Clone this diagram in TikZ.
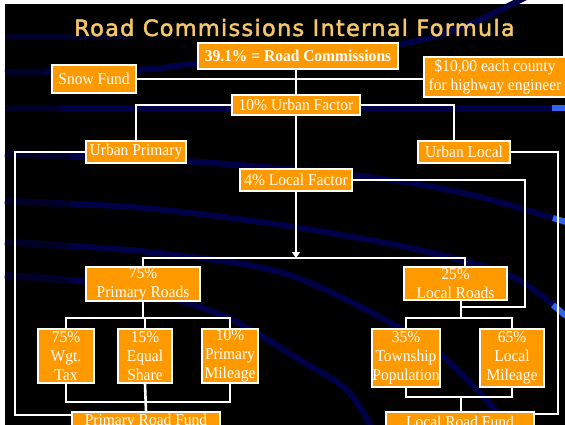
\documentclass[tikz,border=0pt]{standalone}
\usepackage{fontspec}
\setmainfont{Liberation Serif}[FakeStretch=0.94]
\newfontfamily\titlefont{DejaVu Sans}[LetterSpace=5.5,FakeBold=2]
\usetikzlibrary{arrows.meta}
\pgfdeclarelayer{bg}
\pgfsetlayers{bg,main}
\definecolor{orng}{RGB}{255,153,0}
\definecolor{gold}{RGB}{246,198,104}
\definecolor{navyb}{RGB}{0,0,72}
\definecolor{navyd}{RGB}{0,0,40}
\definecolor{brightb}{RGB}{50,100,240}
\newcommand\bxfont{\fontsize{16.5}{19}\selectfont}
\begin{document}
\begin{tikzpicture}[x=1pt,y=-1pt,
  box/.style={draw=white, line width=1.8pt, fill=orng, text=white, inner sep=0pt, align=center, font=\bxfont},
  conn/.style={draw=white, line width=2.6pt},
  swoosh/.style={draw=navyb, line width=6pt},
  tipb/.style={draw=brightb, line width=6pt},
  ttl/.style={text=gold, inner sep=0pt, anchor=base, font={\titlefont\fontsize{22.5}{26}\selectfont}}
]
\useasboundingbox (0,0) rectangle (565,425);
\clip (0,0) rectangle (565,425);

% boxes
\node[ttl] (T) at (294.5,36) {Road Commissions Internal Formula};
\node[box, font=\bxfont\bfseries, minimum width=200pt, minimum height=26pt] (B1) at (298,56) {39.1\% = Road Commissions};
\node[box, minimum width=84pt, minimum height=28pt] (Snow) at (94,79) {Snow Fund};
\node[box, font={\fontsize{16.5}{19.5}\selectfont}, minimum width=142pt, minimum height=40pt] (Ten) at (495,77) {\$10,00 each county\\for highway engineer};
\node[box, minimum width=128pt, minimum height=20pt] (UF) at (296,105) {10\% Urban Factor};
\node[box, minimum width=100pt, minimum height=22pt] (UP) at (136,152) {Urban Primary};
\node[box, minimum width=92pt, minimum height=22pt] (UL) at (464,152) {Urban Local};
\node[box, minimum width=112pt, minimum height=22pt] (LF) at (296,180) {4\% Local Factor};
\node[box, minimum width=114pt, minimum height=34pt] (PR) at (143,284) {75\%\\Primary Roads};
\node[box, minimum width=103pt, minimum height=33pt] (LR) at (455.5,283.5) {25\%\\Local Roads};
\node[box, minimum width=56pt, minimum height=54pt] (WT) at (66,356) {75\%\\Wgt.\\Tax};
\node[box, minimum width=54pt, minimum height=54pt] (ES) at (145,356) {15\%\\Equal\\Share};
\node[box, minimum width=56pt, minimum height=54pt] (PM) at (230,356) {10\%\\Primary\\Mileage};
\node[box, minimum width=68pt, minimum height=58pt] (TP) at (406,358) {35\%\\Township\\Population};
\node[box, minimum width=64pt, minimum height=58pt] (LM) at (512,358) {65\%\\Local\\Mileage};
\node[box, minimum width=148pt, minimum height=20pt] (PRF) at (146,422) {Primary Road Fund};
\node[box, minimum width=148pt, minimum height=20pt] (LRF) at (460,422) {Local Road Fund};

\coordinate (J1) at (296,258);
\coordinate (cL) at (15,415);
\coordinate (cR) at (558,414);
\coordinate (cM) at (525,307);
\coordinate (prb) at (144,318);
\coordinate (prt) at (145,402);
\coordinate (lrb) at (461,318);
\coordinate (lrt) at (461,397);

\begin{pgfonlayer}{bg}
\clip (0,0) rectangle (565,425);
\fill[white] (0,0) rectangle (565,425);
\fill[black] (5,4) rectangle (566,426);
\fill[white] (563,0) rectangle (566,60);
% background swooshes
\draw[swoosh, navyd] (5,37) -- (130,37);
\draw[swoosh] plot[smooth] coordinates {(5,72) (137,70) (200,63) (300,53) (400,44) (455,30) (500,10) (530,-5)};
\draw[swoosh] (5,108) -- (566,108);
\draw[tipb] (552,108) -- (566,108);
\draw[swoosh] plot[smooth] coordinates {(5,154) (184,161) (360,176) (468,194) (566,222)};
\draw[tipb] (553,218) -- (566,222);
\draw[swoosh] plot[smooth] coordinates {(5,201) (144,208) (288,226) (420,250) (513,277) (566,316)};
\draw[tipb] (553,305) -- (566,316);
\draw[swoosh] plot[smooth] coordinates {(5,242) (150,252) (280,272) (380,317) (447,360) (513,430)};
\draw[swoosh] plot[smooth] coordinates {(5,275) (100,283) (167,297) (233,320) (300,360) (347,390) (373,430)};
\draw[swoosh, navyd, line width=6.5pt] (5,37) -- (60,37);
\draw[swoosh, navyd, line width=6.5pt] (5,72) -- (45,72);
\draw[swoosh, navyd, line width=6.5pt] (5,108) -- (60,108);
\draw[swoosh, navyd, line width=6.5pt] plot[smooth] coordinates {(5,154) (40,155.3) (70,156.5)};
\draw[swoosh, navyd, line width=6.5pt] plot[smooth] coordinates {(5,201) (40,202.8) (70,204.5)};
\draw[swoosh, navyd, line width=6.5pt] plot[smooth] coordinates {(5,242) (40,244.3) (70,246.5)};
\draw[swoosh, navyd, line width=6.5pt] plot[smooth] coordinates {(5,275) (40,278.3) (70,280.7)};
% connectors
\draw[conn] (B1.south -| UF.north) -- (UF.north);
\draw[conn] (Snow.east) -- (Snow.east -| Ten.west);
\draw[conn] (UF.west) -| (UP.north);
\draw[conn] (UF.east) -| ([xshift=-10pt]UL.north);
\draw[conn] (UF.south) -- (LF.north);
\draw[conn, -{Triangle[width=8pt,length=6pt]}] (LF.south) -- (J1);
\draw[conn] (PR.north) |- (J1) -| ([xshift=9.5pt]LR.north);
\draw[conn] (UP.west) -| (cL) -- (cL -| PRF.west);
\draw[conn] (UL.east) -| (cR) -- (cR -| LRF.east);
\draw[conn] (LF.east) -| (cM) -- (cM -| lrb);
\draw[conn] (PR.south) -- (PR.south |- prb);
\draw[conn] (WT.north) |- (prb) -| (PM.north);
\draw[conn] (ES.north) -- (ES.north |- prb);
\draw[conn] (WT.south) |- (prt) -| (PM.south);
\draw[conn] (ES.south) -- (PRF.north);
\draw[conn] (LR.south -| lrb) -- (lrb);
\draw[conn] (TP.north) |- (lrb) -| (LM.north);
\draw[conn] (TP.south) |- (lrt) -| (LM.south);
\draw[conn] (lrt) -- (lrt |- LRF.north);
\end{pgfonlayer}
\end{tikzpicture}
\end{document}
